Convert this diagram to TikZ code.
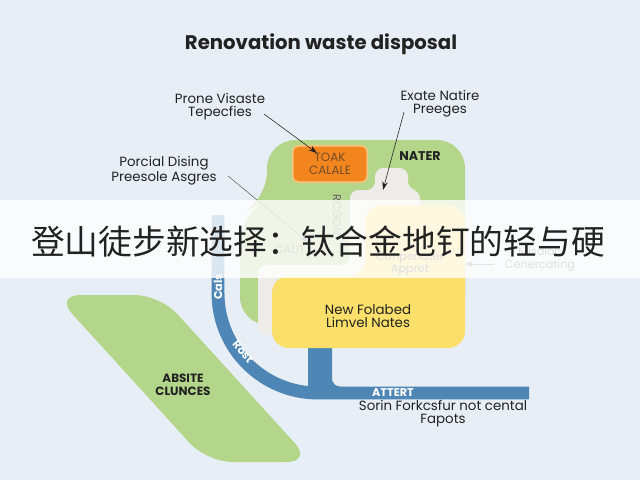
\documentclass[tikz,border=0pt]{standalone}
\usepackage{fontspec}
\setmainfont{Poppins}
\newfontfamily\cjk{Noto Sans CJK SC}
\usetikzlibrary{arrows.meta,positioning}
\definecolor{bgblue}{HTML}{E8EEF6}
\definecolor{leaf}{HTML}{B4D68B}
\definecolor{pale}{HTML}{EDECE8}
\definecolor{sun}{HTML}{FADF6A}
\definecolor{flame}{HTML}{F2851E}
\definecolor{flameedge}{HTML}{F7C47C}
\definecolor{pipe}{HTML}{4E87B5}
\definecolor{ink}{HTML}{222222}

\begin{document}
\begin{tikzpicture}[
x=0.025cm, y=-0.025cm,
lbl/.style={align=center, font=\fontsize{9.5}{9.2}\selectfont, text=ink, inner sep=0pt},
onpipe/.style={font=\fontsize{8}{9}\bfseries\selectfont, text=white, inner sep=0pt},
ghost/.style={align=center, font=\fontsize{8}{9}\selectfont, text=ink!70, inner sep=0pt},
ptr/.style={-{Stealth[length=6pt,width=4pt]}, thin, ink}
]
\fill[bgblue] (0,0) rectangle (640,480);
\useasboundingbox (0,0) rectangle (640,480);

\node[font=\fontsize{14}{16}\bfseries\selectfont, text=ink] (title) at (321,44) {Renovation waste disposal};

% shapes
\fill[leaf, rounded corners=18pt] (55,295) -- (160,295) -- (312,462) -- (207,462) -- cycle;
\fill[leaf, rounded corners=20pt] (267,140) -- (465,140) -- (465,325) -- (240,325) -- (240,215) -- (267,200) -- cycle;
\fill[pale, rounded corners=6pt] (258,335) -- (258,265) -- (350,265) -- (350,190) -- (375,190) -- (375,168) -- (408,168) -- (408,190) -- (420,190) -- (420,335) -- cycle;
\fill[pipe] (308,340) -- (332,340) -- (332,377) .. controls (332,385) and (336,387) .. (345,387) -- (345,396) -- (308,396) -- cycle;
\fill[sun, rounded corners=12pt] (272,348) -- (272,276) -- (365,276) -- (365,205) -- (465,205) -- (465,348) -- cycle;
\draw[pipe, line width=9.2pt, rounded corners=71pt] (218,215) -- (218,393) -- (529,393);

\node[draw=flameedge, line width=1.2pt, fill=flame, rounded corners=4pt,
  minimum width=53pt, minimum height=26pt, align=center,
  font=\fontsize{8.5}{9}\selectfont, text=brown!60!black] (toak) at (330,164) {TOAK\\CALALE};
\node[font=\fontsize{9}{10}\bfseries\selectfont, text=ink] (nater) at (420,156) {NATER};
\node[lbl] (newfol) at (368,316) {New Folabed\\Limvel Nates};
\node[font=\fontsize{8.5}{9}\bfseries\selectfont, text=ink, align=center] (absite) at (183,385) {ABSITE\\CLUNCES};

\node[onpipe, rotate=90] (cals) at (218,287) {Cals};
\node[onpipe, rotate=-50] (rost) at (243,352) {Rost};
\node[onpipe] (attert) at (393,393) {ATTERT};
\node[lbl] (sorin) at (443,414) {Sorin Forkcsfur not cental\\Fapots};

\node[ghost] (calit) at (290,250) {CALIT};
\node[ghost, rotate=-90] (rcgon) at (337,215) {RCGON};
\node[ghost] (conp) at (410,264) {Conpenater\\Appret};
\node[ghost] (misalon) at (540,259) {Misalon\\Cenercating};

% callouts
\node[lbl] (prone) at (220,107) {Prone Visaste\\Tepecfies};
\node[lbl] (exate) at (440,104) {Exate Natire\\Preeges};
\node[lbl] (porcial) at (164,171) {Porcial Dising\\Preesole Asgres};

\coordinate (proneTail) at (264,114);
\coordinate (toakTip) at (317,153);
\coordinate (exateTail) at (404,112);
\coordinate (bumpTip) at (383,190);
\coordinate (porcialTail) at (228,176);
\coordinate (calitTip) at (308,242);
\coordinate (misTail) at (494,264);
\coordinate (conpTip) at (465,264);

\draw[ptr] (proneTail) -- (toakTip);
\draw[ptr] (exateTail) -- (bumpTip);
\draw[ptr, ink!70] (porcialTail) -- (calitTip);
\draw[ptr, ink!60] (misTail) -- (conpTip);

% banner
\fill[white, opacity=0.8] (0,200) rectangle (640,278);
\node[font=\cjk\fontsize{24}{26}\selectfont, text=ink] (banner) at (318,242) {登山徒步新选择：钛合金地钉的轻与硬};

\end{tikzpicture}
\end{document}
